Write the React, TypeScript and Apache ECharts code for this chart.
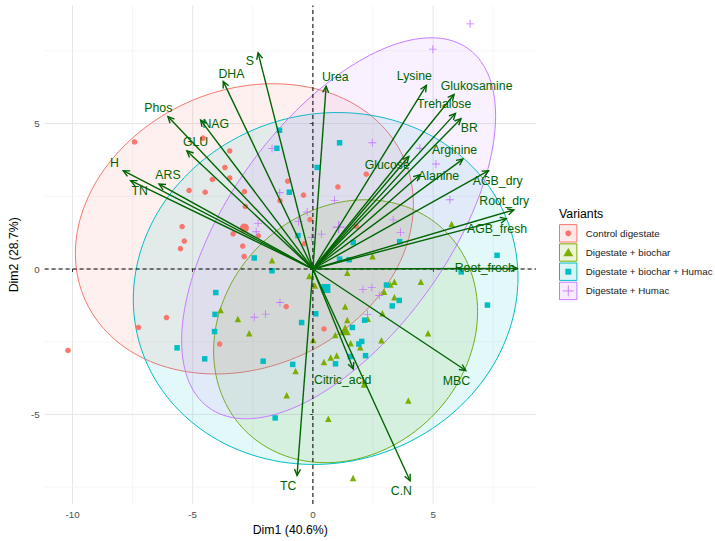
import React, { useEffect, useRef } from "react";
import * as echarts from "echarts";

const FONT = "'Liberation Sans', Arial, Helvetica, sans-serif";

const groups = ["Control digestate", "Digestate + biochar", "Digestate + biochar + Humac", "Digestate + Humac"];
const groupColors = ["#F8766D", "#7CAE00", "#00BFC4", "#C77CFF"];

const controlPoints = [
  [-7.42, 4.37], [-3.46, 4.06], [-3.66, 3.49], [-4.18, 3.08], [-3.46, 3.13], [-5.15, 2.7], [-4.48, 2.64],
  [-2.85, 2.66], [-1.05, 3.02], [-0.39, 2.54], [-1.37, 2.35], [-2.81, 2.15], [-5.44, 1.46], [-3.32, 1.21],
  [-2.92, 0.79], [-2.27, 1.14], [-0.35, 0.87], [-2.86, 0.43], [-0.12, 1.7], [-5.35, 0.96], [-5.51, 0.7],
  [-10.19, -2.8], [-6.09, -1.67], [-7.26, -2.01], [-1.11, -1.29], [-3.88, -2.58], [0.46, -2.06],
  [2.22, 3.26], [1.04, 2.82], [1.8, 1.47], [-4.57, 4.5],
];
const biocharPoints = [
  [-1.7, 0.3], [-3.84, -1.41], [-3.12, -1.72], [-2.65, -2.21], [-0.72, -3.51], [-1.09, -4.34], [-0.15, -0.24],
  [0.08, -0.57], [0.01, -2.44], [0.46, -3.2], [1.43, -0.13], [1.34, -1.29], [1.43, -1.75], [0.93, -2.27],
  [1.57, -2.55], [1.97, -2.69], [0.99, -2.97], [0.74, -3.04], [2.48, 0.44], [2.96, -0.78], [3.39, -0.97],
  [3.39, -0.44], [2.89, -1.52], [2.28, -1.71], [2.85, -2.45], [4.49, -0.44], [4.79, -2.21], [2.12, -3.97],
  [3.97, -4.52], [0.64, -5.15], [1.67, -7.19], [5.77, 1.55], [3.22, -0.53],
];
const biocharHumacPoints = [
  [-1.39, 4.77], [-1.5, 4.15], [0.18, 3.49], [-0.98, 2.64], [-0.62, 1.15], [-2.44, 0.38], [1.11, 4.34],
  [1.68, 0.91], [3.61, 0.94], [7.66, 0.47], [7.26, -1.24], [6.17, -0.1], [1.11, 0.34], [1.51, 0.32],
  [3.06, -0.55], [3.59, -1.08], [3.3, -1.27], [2.15, -1.76], [1.64, -2.01], [2.03, -2.49], [1.91, -2.58],
  [2.19, -2.98], [1.56, -3.01], [0.94, -3.26], [0.12, -1.54], [-0.47, -1.84], [-0.84, -3.28], [-1.7, -0.06],
  [-4.04, -0.81], [-4.07, -1.56], [-4.09, -2.15], [-5.65, -2.71], [-4.5, -3.09], [-2.07, -3.17], [-1.57, -5.12],
];
const humacPoints = [
  [6.54, 8.43], [4.99, 7.56], [2.47, 4.34], [4.45, 4.15], [5.12, 3.61], [0.9, 2.36], [3.34, 1.69], [3.64, 1.26],
  [0.36, 1.2], [-0.06, 1.08], [-1.7, 4.14], [-1.38, 2.62], [-0.24, 1.96], [-0.6, 1.63], [-2.28, 1.57],
  [-2.36, 1.28], [-1.37, -1.15], [-2.44, -1.66], [-1.97, -1.55], [2.08, -0.7], [2.45, -0.64], [2.27, -1.56],
  [2.76, -0.91], [5.7, 2.38],
];
const groupPoints = [controlPoints, biocharPoints, biocharHumacPoints, humacPoints];
const groupMeans = [[-2.85, 1.41], [1.34, -2.09], [0.54, -0.67], [1.07, 1.44]];

// concentration ellipses: centre, half extent along Dim1 / Dim2, correlation
const ellipseCenters = [[-2.85, 1.38], [1.36, -2.14], [0.53, -0.67], [1.07, 1.4]];
const ellipseHalfWidths = [7.03, 5.49, 8.0, 6.53];
const ellipseHalfHeights = [4.99, 4.52, 6.05, 6.55];
const ellipseCorrelations = [0.17, 0.15, 0.062, 0.59];

const variableNames = ["S", "DHA", "Phos", "NAG", "GLU", "H", "TN", "ARS", "Urea", "Lysine", "Glukosamine",
  "Trehalose", "BR", "Arginine", "Glucose", "Alanine", "AGB_dry", "Root_dry", "AGB_fresh", "Root_fresh",
  "MBC", "Citric_acid", "C.N", "TC"];
const variableDim1 = [-2.28, -3.73, -6.03, -4.67, -5.24, -7.89, -7.58, -6.4, 0.55, 4.72, 5.87, 5.93, 6.16, 6.24,
  3.99, 4.45, 7.31, 8.36, 8.05, 8.5, 6.36, 1.68, 4.04, -0.66];
const variableDim2 = [7.43, 6.45, 5.24, 5.12, 4.06, 3.38, 3.04, 2.92, 6.28, 6.31, 6.0, 5.35, 5.17, 3.78, 3.87,
  3.24, 3.38, 2.03, 1.73, 0.02, -3.49, -3.44, -7.28, -7.1];
const labelDim1 = [-2.62, -3.39, -6.43, -4.04, -4.88, -8.26, -7.2, -6.03, 0.93, 4.22, 6.81, 5.46, 6.51, 5.89,
  3.09, 5.23, 7.69, 7.96, 7.66, 7.15, 5.97, 1.24, 3.68, -1.03];
const labelDim2 = [7.14, 6.72, 5.55, 4.97, 4.35, 3.64, 2.69, 3.24, 6.61, 6.63, 6.28, 5.66, 4.86, 4.09, 3.58,
  3.21, 3.02, 2.35, 1.36, 0.04, -3.84, -3.8, -7.65, -7.45];

const xTicks = [-10, -5, 0, 5];
const yTicks = [-5, 0, 5];
const xMinorGrid = [-7.5, -2.5, 2.5, 7.5];
const yMinorGrid = [-7.5, -2.5, 2.5, 7.5];
const zeroLines = [0];

const X_MIN = -11.16;
const X_MAX = 9.28;
const Y_MIN = -8.08;
const Y_MAX = 9.06;

const ARROW = "#006400";
const PLUS = "path://M4.45,0H5.55V4.45H10V5.55H5.55V10H4.45V5.55H0V4.45H4.45Z";
const groupSymbols = ["circle", "triangle", "rect", PLUS];
const pointSizes = [5.5, 6.5, 5.5, 8];
const meanSizes = [9, 11, 9, 12];

function rgba(hex: string, a: number) {
  const n = parseInt(hex.slice(1), 16);
  return `rgba(${(n >> 16) & 255},${(n >> 8) & 255},${n & 255},${a})`;
}

export default function App() {
  const ref = useRef<HTMLDivElement>(null);
  useEffect(() => {
    if (!ref.current) return;
    const chart = echarts.init(ref.current, undefined, { renderer: "svg" });

    const gridData: number[][] = [];
    xTicks.forEach((v) => gridData.push([v, 0, 1]));
    xMinorGrid.forEach((v) => gridData.push([v, 0, 0]));
    yTicks.forEach((v) => gridData.push([v, 1, 1]));
    yMinorGrid.forEach((v) => gridData.push([v, 1, 0]));
    const zeroData: number[][] = [];
    zeroLines.forEach((v) => { zeroData.push([v, 0, 2]); zeroData.push([v, 1, 2]); });

    const renderGridLine = (_p: any, api: any) => {
      const v = api.value(0), o = api.value(1), kind = api.value(2);
      const a = o === 0 ? api.coord([v, Y_MIN]) : api.coord([X_MIN, v]);
      const b = o === 0 ? api.coord([v, Y_MAX]) : api.coord([X_MAX, v]);
      const style: any = kind === 2
        ? { stroke: "#000", lineWidth: 1, lineDash: [4, 3] }
        : { stroke: kind === 1 ? "#E6E6E6" : "#F0F0F0", lineWidth: kind === 1 ? 1 : 0.7 };
      return { type: "line", shape: { x1: a[0], y1: a[1], x2: b[0], y2: b[1] }, style };
    };

    const renderEllipse = (_p: any, api: any) => {
      const i = api.value(2);
      const [cx, cy] = ellipseCenters[i];
      const hw = ellipseHalfWidths[i], hh = ellipseHalfHeights[i], r = ellipseCorrelations[i];
      const pts: number[][] = [];
      for (let k = 0; k <= 160; k++) {
        const t = (k / 160) * Math.PI * 2;
        const x = cx + hw * Math.cos(t);
        const y = cy + hh * (r * Math.cos(t) + Math.sqrt(1 - r * r) * Math.sin(t));
        pts.push(api.coord([x, y]));
      }
      return {
        type: "polygon",
        shape: { points: pts },
        style: { fill: rgba(groupColors[i], 0.11), stroke: groupColors[i], lineWidth: 1 },
      };
    };

    const renderArrow = (_p: any, api: any) => {
      const o = api.coord([0, 0]);
      const p = api.coord([api.value(0), api.value(1)]);
      const lp = api.coord([api.value(2), api.value(3)]);
      const name = variableNames[api.value(4)];
      const ang = Math.atan2(p[1] - o[1], p[0] - o[0]);
      const L = 7, a = Math.PI / 7;
      const h1 = [p[0] - L * Math.cos(ang - a), p[1] - L * Math.sin(ang - a)];
      const h2 = [p[0] - L * Math.cos(ang + a), p[1] - L * Math.sin(ang + a)];
      return {
        type: "group",
        children: [
          { type: "line", shape: { x1: o[0], y1: o[1], x2: p[0], y2: p[1] }, style: { stroke: ARROW, lineWidth: 1.4 } },
          { type: "polyline", shape: { points: [h1, p, h2] }, style: { stroke: ARROW, lineWidth: 1.4, fill: null } },
          {
            type: "text", x: lp[0], y: lp[1],
            style: {
              text: name, fill: ARROW, fontSize: 12.3, fontFamily: FONT,
              align: "center", verticalAlign: "middle", textAlign: "center", textVerticalAlign: "middle",
            },
          },
        ],
      };
    };

    const scatterSeries = groups.map((g, i) => ({
      type: "scatter",
      name: g,
      z: 3,
      symbol: groupSymbols[i],
      symbolKeepAspect: true,
      symbolSize: pointSizes[i],
      itemStyle: { color: groupColors[i], opacity: 1 },
      silent: true,
      data: [
        ...groupPoints[i].map((p) => ({ value: p })),
        { value: groupMeans[i], symbolSize: meanSizes[i] },
      ],
    }));

    // legend built with graphic elements
    const legendChildren: any[] = [
      {
        type: "text", x: 559, y: 214,
        style: { text: "Variants", fill: "#000", fontSize: 12.3, fontFamily: FONT, verticalAlign: "middle", textVerticalAlign: "middle" },
      },
    ];
    groups.forEach((g, i) => {
      const cy = 233.3 + i * 19.2;
      const cx = 568.3;
      legendChildren.push({
        type: "rect", shape: { x: 559.5, y: cy - 8.7, width: 17.4, height: 17.4 },
        style: { fill: rgba(groupColors[i], 0.15), stroke: groupColors[i], lineWidth: 1 },
      });
      if (i === 0) legendChildren.push({ type: "circle", shape: { cx, cy, r: 3 }, style: { fill: groupColors[i] } });
      if (i === 1) legendChildren.push({ type: "polygon", shape: { points: [[cx, cy - 4.5], [cx - 5, cy + 3.8], [cx + 5, cy + 3.8]] }, style: { fill: groupColors[i] } });
      if (i === 2) legendChildren.push({ type: "rect", shape: { x: cx - 3, y: cy - 3, width: 6, height: 6 }, style: { fill: groupColors[i] } });
      if (i === 3) {
        legendChildren.push({ type: "line", shape: { x1: cx - 5.5, y1: cy, x2: cx + 5.5, y2: cy }, style: { stroke: groupColors[i], lineWidth: 0.9 } });
        legendChildren.push({ type: "line", shape: { x1: cx, y1: cy - 5.5, x2: cx, y2: cy + 5.5 }, style: { stroke: groupColors[i], lineWidth: 0.9 } });
      }
      legendChildren.push({
        type: "text", x: 585.7, y: cy,
        style: { text: g, fill: "#1A1A1A", fontSize: 9.8, fontFamily: FONT, verticalAlign: "middle", textVerticalAlign: "middle" },
      });
    });

    chart.setOption({
      animation: false,
      backgroundColor: "#FFFFFF",
      textStyle: { fontFamily: FONT },
      grid: { left: 31.7, top: 5.5, right: 179, bottom: 34.3, containLabel: false },
      xAxis: {
        type: "value", min: X_MIN, max: X_MAX,
        axisLine: { show: false },
        splitLine: { show: false },
        axisTick: { show: true, customValues: xTicks, length: 3, lineStyle: { color: "#333333", width: 1 } },
        axisLabel: { customValues: xTicks, color: "#4D4D4D", fontSize: 9.8, margin: 5, fontFamily: FONT },
        name: "Dim1 (40.6%)", nameLocation: "middle", nameGap: 20,
        nameTextStyle: { color: "#000", fontSize: 12.3, fontFamily: FONT },
      },
      yAxis: {
        type: "value", min: Y_MIN, max: Y_MAX,
        axisLine: { show: false },
        splitLine: { show: false },
        axisTick: { show: true, customValues: yTicks, length: 3, lineStyle: { color: "#333333", width: 1 } },
        axisLabel: { customValues: yTicks, color: "#4D4D4D", fontSize: 9.8, margin: 5, fontFamily: FONT },
        name: "Dim2 (28.7%)", nameLocation: "middle", nameGap: 20, nameRotate: 90,
        nameTextStyle: { color: "#000", fontSize: 12.3, fontFamily: FONT },
      },
      graphic: [{ type: "group", children: legendChildren }],
      series: [
        { type: "custom", z: 0, silent: true, renderItem: renderGridLine, data: gridData, clip: false },
        {
          type: "custom", z: 1, silent: true, renderItem: renderEllipse,
          data: ellipseCenters.map((c, i) => [c[0], c[1], i]),
        },
        ...scatterSeries,
        { type: "custom", z: 4, silent: true, renderItem: renderGridLine, data: zeroData, clip: false },
        {
          type: "custom", z: 5, silent: true, renderItem: renderArrow,
          data: variableNames.map((_n, i) => [variableDim1[i], variableDim2[i], labelDim1[i], labelDim2[i], i]),
        },
      ],
    });
    return () => chart.dispose();
  }, []);
  return <div ref={ref} style={{ position: "fixed", left: 0, top: 0, width: 715, height: 541, background: "#fff" }} />;
}
